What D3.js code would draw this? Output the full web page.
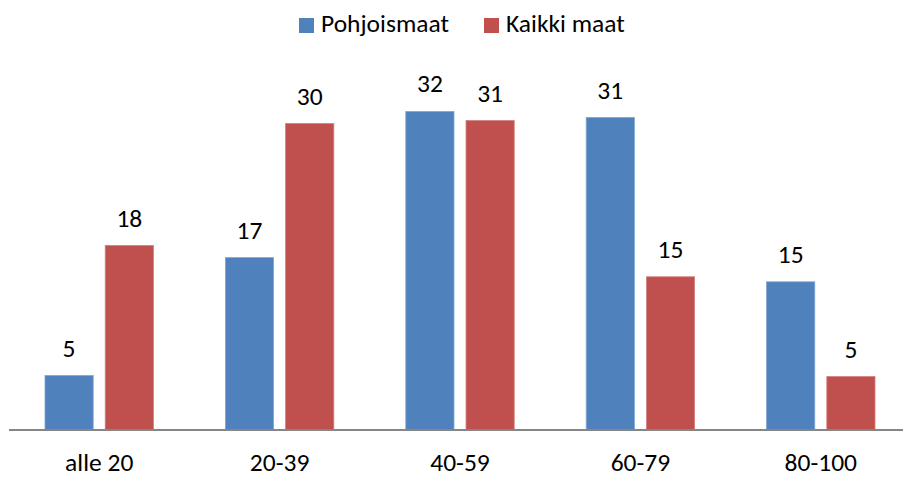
<!DOCTYPE html>
<html><head><meta charset="utf-8">
<script src="https://cdn.jsdelivr.net/npm/d3@7"></script>
<style>body{margin:0;background:#fff}svg{display:block}text{font-family:Calibri,Carlito,Lato,sans-serif;fill:#000}</style>
</head><body><svg id="c" width="903" height="478"></svg>
<script>
const categories = ["alle 20","20-39","40-59","60-79","80-100"];
const seriesNames = ["Pohjoismaat","Kaikki maat"];
const pohjoismaat = [5.4, 17.1, 31.6, 31.0, 14.7];
const kaikkiMaat = [18.3, 30.4, 30.7, 15.2, 5.3];
const colors = ["#4F81BD","#C0504D"];
const strokes = ["#7FA3D3","#D27E7C"];

const svg = d3.select("#c");
const base = 430;
const fs = 25.5;
const x = d3.scaleBand().domain(categories).range([9, 911]).paddingInner(0).paddingOuter(0);
const x1 = d3.scaleBand().domain(seriesNames).range([36, x.bandwidth()-36]).paddingInner(0.2);
const y = d3.scaleLinear().domain([0, 35]).range([base, base - 35*10.08]);

const data = categories.map((c,i)=>({cat:c, vals:[pohjoismaat[i], kaikkiMaat[i]]}));
const fmt = d3.format(".0f");

const g = svg.append("g");
data.forEach(d=>{
  d.vals.forEach((v,j)=>{
    const bx = x(d.cat) + x1(seriesNames[j]);
    g.append("rect").attr("x", bx).attr("y", y(v)).attr("width", x1.bandwidth()).attr("height", base - y(v))
      .attr("fill", colors[j]).attr("stroke", strokes[j]).attr("stroke-width", 0.8);
    g.append("text").attr("x", bx + x1.bandwidth()/2).attr("y", y(v) - 19)
      .attr("text-anchor","middle").attr("font-size", fs).text(fmt(v));
  });
});

const xAxis = d3.axisBottom(x).tickSize(0).tickPadding(0);
const ax = svg.append("g").attr("transform", `translate(0,${base})`).call(xAxis);
ax.select(".domain").attr("stroke","#868686").attr("stroke-width",2).attr("d", `M9,0H903`);
ax.selectAll("text").attr("font-size",fs).attr("dy", null).attr("y", 41).style("font-family","Calibri,Carlito,Lato,sans-serif");

const legend = svg.append("g");
const legX = [299, 484];
seriesNames.forEach((n,i)=>{
  legend.append("rect").attr("x", legX[i]).attr("y", 18).attr("width", 15).attr("height", 15).attr("fill", colors[i]);
  legend.append("text").attr("x", legX[i] + 22).attr("y", 32).attr("font-size", fs).text(n);
});
</script></body></html>
